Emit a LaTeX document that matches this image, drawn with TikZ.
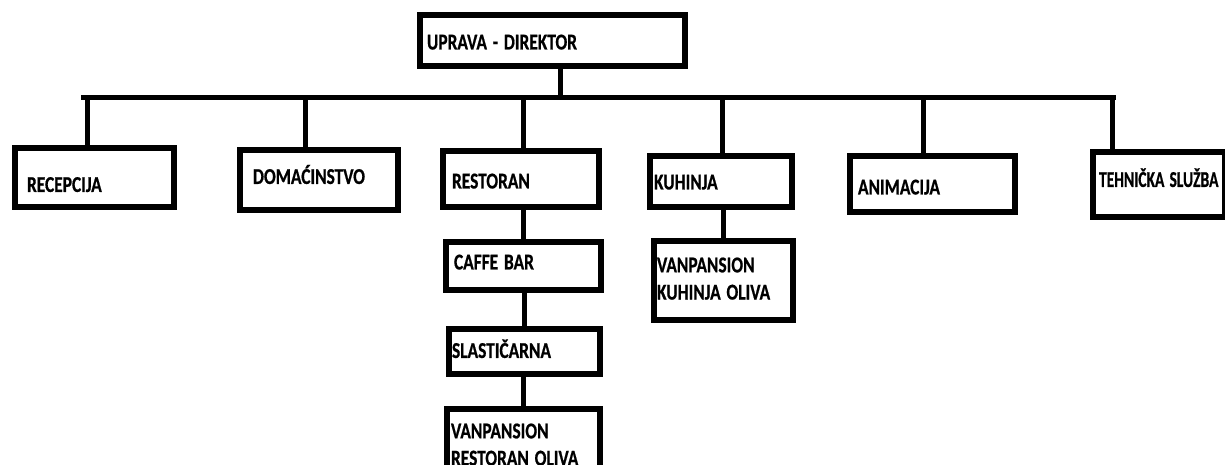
\documentclass[tikz,border=0pt]{standalone}
\usepackage{fontspec}
\usepackage{graphicx}
\setmainfont{Carlito}[BoldFeatures={FakeBold=0.8}]
% shift, optional x-scale, text
\newcommand{\orgtext}[3][1]{\raisebox{#2}[\height][\depth]{\scalebox{#1}[1.3]{\begin{tabular}{@{}l@{}}#3\end{tabular}}}}
\tikzset{
  unit/.style={draw, line width=6pt, outer sep=0pt, anchor=north west, inner xsep=7pt, inner ysep=0pt,
    align=left, font=\bfseries\fontsize{17.4}{20.9}\selectfont},
  link/.style={line width=5pt},
  bus/.style={line width=5.5pt, line cap=rect}
}
\begin{document}
\begin{tikzpicture}[x=1pt, y=-1pt]
\useasboundingbox (0,0) rectangle (1225,465);

\node[unit, minimum width=265pt, minimum height=51pt, text width=251pt] (uprava) at (420,15) {\orgtext{-3.5pt}{UPRAVA - DIREKTOR}};

\node[unit, minimum width=159pt, minimum height=59pt, inner xsep=12pt, text width=135pt] (recepcija) at (15,148) {\orgtext{-9pt}{RECEPCIJA}};
\node[unit, minimum width=158pt, minimum height=60pt, inner xsep=13pt, text width=132pt] (domacinstvo) at (240,150) {\orgtext{1.5pt}{DOMAĆINSTVO}};
\node[unit, minimum width=156pt, minimum height=56pt, inner xsep=9pt, text width=138pt] (restoran) at (443,151) {\orgtext{-4pt}{RESTORAN}};
\node[unit, minimum width=142pt, minimum height=51pt, inner xsep=4pt, text width=134pt] (kuhinja) at (650,156) {\orgtext{-2.5pt}{KUHINJA}};
\node[unit, minimum width=165pt, minimum height=56pt, inner xsep=8pt, text width=149pt] (animacija) at (850,156) {\orgtext{-5pt}{ANIMACIJA}};
\node[unit, minimum width=132pt, minimum height=65pt, inner xsep=6pt, text width=120pt] (tehnicka) at (1093,152) {\orgtext[0.89]{3pt}{TEHNIČKA SLUŽBA}};

\node[unit, minimum width=155pt, minimum height=48pt, inner xsep=8pt, text width=139pt] (caffe) at (446,242) {\orgtext{2pt}{CAFFE BAR}};
\node[unit, minimum width=151pt, minimum height=45pt, inner xsep=3pt, text width=145pt] (slasticarna) at (449,329) {\orgtext{-1pt}{SLASTIČARNA}};
\node[unit, minimum width=153pt, minimum height=75pt, inner xsep=4pt, text width=145pt] (vanrestoran) at (447,409) {\orgtext{0pt}{VANPANSION\\RESTORAN OLIVA}};
\node[unit, minimum width=139pt, minimum height=79pt, inner xsep=3pt, text width=133pt] (vankuhinja) at (654,241) {\orgtext{0pt}{VANPANSION\\KUHINJA OLIVA}};

% bus under the director
\coordinate (busL) at (84,97.5);
\coordinate (busR) at (1113,97.5);
\draw[bus] (busL) -- (busR);
\draw[link] ([xshift=7.5pt]uprava.south) -- ([xshift=7.5pt]uprava.south |- busL);
\foreach \unit/\dx in {recepcija/-7.5, domacinstvo/-14, restoran/2, kuhinja/1, animacija/-9.5, tehnicka/-47}
{
    \draw[link] ([xshift=\dx pt]\unit.north) -- ([xshift=\dx pt]\unit.north |- busL);
}

\draw[link] (caffe.north |- restoran.south) -- (caffe.north);
\draw[link] (slasticarna.north |- caffe.south) -- (slasticarna.north);
\draw[link] (vanrestoran.north |- slasticarna.south) -- (vanrestoran.north);
\draw[link] (vankuhinja.north |- kuhinja.south) -- (vankuhinja.north);

\end{tikzpicture}
\end{document}
